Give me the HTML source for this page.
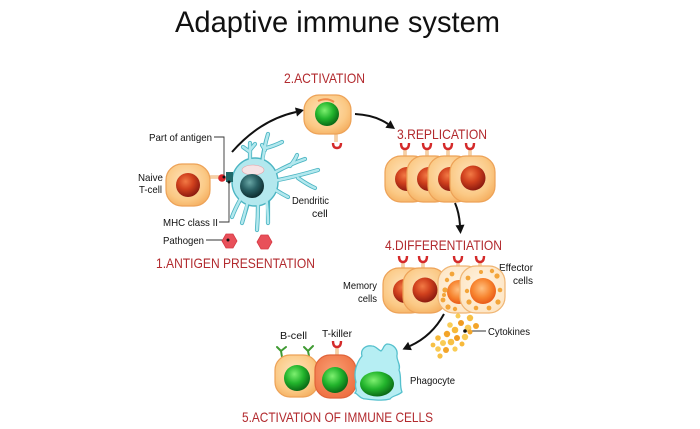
<!DOCTYPE html>
<html><head><meta charset="utf-8"><style>
html,body{margin:0;padding:0;background:#fff;}
svg{display:block;}
text{font-family:"Liberation Sans",Arial,sans-serif;}
</style></head><body>
<svg width="700" height="429" viewBox="0 0 700 429" xmlns="http://www.w3.org/2000/svg">
<defs>
<radialGradient id="peach" cx="45%" cy="40%" r="65%">
<stop offset="0" stop-color="#fde4bd"/><stop offset="0.7" stop-color="#fbc985"/><stop offset="1" stop-color="#f5b062"/>
</radialGradient>
<radialGradient id="redn" cx="40%" cy="35%" r="65%">
<stop offset="0" stop-color="#f27a45"/><stop offset="0.5" stop-color="#d0401d"/><stop offset="1" stop-color="#8e1b10"/>
</radialGradient>
<radialGradient id="greenn" cx="40%" cy="35%" r="65%">
<stop offset="0" stop-color="#7ef070"/><stop offset="0.55" stop-color="#22b42c"/><stop offset="1" stop-color="#0b6b16"/>
</radialGradient>
<radialGradient id="tealn" cx="40%" cy="35%" r="65%">
<stop offset="0" stop-color="#6aa7a6"/><stop offset="0.5" stop-color="#2a6266"/><stop offset="1" stop-color="#0f2e31"/>
</radialGradient>
<radialGradient id="orangen" cx="45%" cy="40%" r="60%">
<stop offset="0" stop-color="#ffc080"/><stop offset="0.6" stop-color="#f7842f"/><stop offset="1" stop-color="#e95a18"/>
</radialGradient>
<radialGradient id="pale" cx="50%" cy="45%" r="65%">
<stop offset="0" stop-color="#fff5e6"/><stop offset="1" stop-color="#fde3bf"/>
</radialGradient>
<radialGradient id="killer" cx="45%" cy="40%" r="65%">
<stop offset="0" stop-color="#f9a074"/><stop offset="1" stop-color="#ee6e40"/>
</radialGradient>
</defs>

<!-- Title -->
<text x="175" y="32" font-size="30" textLength="325" lengthAdjust="spacingAndGlyphs" fill="#111">Adaptive immune system</text>

<!-- Stage headings -->
<g fill="#b22a2e" font-size="14">
<text x="156" y="268" textLength="159" lengthAdjust="spacingAndGlyphs">1.ANTIGEN PRESENTATION</text>
<text x="284" y="83" textLength="81" lengthAdjust="spacingAndGlyphs">2.ACTIVATION</text>
<text x="397" y="139" textLength="90" lengthAdjust="spacingAndGlyphs">3.REPLICATION</text>
<text x="385" y="250" textLength="117" lengthAdjust="spacingAndGlyphs">4.DIFFERENTIATION</text>
<text x="242" y="422" textLength="191" lengthAdjust="spacingAndGlyphs">5.ACTIVATION OF IMMUNE CELLS</text>
</g>

<!-- leader lines -->
<g stroke="#333" stroke-width="0.9" fill="none">
<path d="M214,137 H224 V176"/>
<path d="M219,222 H229 V182"/>
<path d="M206,240 H228"/>
<path d="M466,331 H486"/>
</g>

<!-- Arrows -->
<g stroke="#111" stroke-width="2" fill="none">
<path d="M232,152 Q260,120 296,112"/>
<path d="M355,114 Q375,115 388,124"/>
<path d="M455,203 Q459,212 460,225"/>
<path d="M444,314 Q432,336 410,346"/>
</g>
<g fill="#111">
<polygon points="304,110 297,116.5 295,107.5"/>
<polygon points="395,129 385.4,127.7 390.6,120.3"/>
<polygon points="460.6,234 455.5,225.4 464.5,224.6"/>
<polygon points="402.5,349.5 411.9,350.1 408.1,341.9"/>
</g>

<!-- Naive T-cell -->
<line x1="209" y1="177" x2="220" y2="177" stroke="#e9a867" stroke-width="3"/>
<line x1="209" y1="177" x2="220" y2="177" stroke="#fbe0bd" stroke-width="1.4"/>
<rect x="166" y="164" width="44" height="42" rx="16" fill="url(#peach)" stroke="#eda257" stroke-width="1.2"/>
<circle cx="188" cy="185" r="12" fill="url(#redn)"/>

<!-- Dendritic cell -->
<g fill="none" stroke-linecap="round">
<g stroke="#4cb5c3" stroke-width="4.2">
<path d="M250,162 L250,143"/><path d="M250,152 L243,147"/><path d="M250,150 L255,144"/>
<path d="M262,162 Q264,147 268,134"/><path d="M266,148 Q274,146 282,142"/><path d="M265,150 L262,145"/>
<path d="M276,172 Q290,164 305,159"/><path d="M290,166 Q295,160 297,155"/>
<path d="M278,180 Q298,176 318,170"/><path d="M298,178 Q308,185 315,188"/>
<path d="M276,190 Q282,194 288,197"/>
<path d="M268,200 Q268,212 268,223"/>
<path d="M258,204 Q258,217 257,230"/>
<path d="M248,203 Q245,213 242,223"/>
<path d="M240,200 Q235,209 232,217"/>
</g>
<ellipse cx="255" cy="182" rx="23" ry="24" fill="#b3e8ee" stroke="#4cb5c3" stroke-width="1.4"/>
<g stroke="#b3e8ee" stroke-width="2.5">
<path d="M250,168 L250,143"/><path d="M250,152 L243,147"/><path d="M250,150 L255,144"/>
<path d="M262,166 Q264,147 268,134"/><path d="M266,148 Q274,146 282,142"/><path d="M265,150 L262,145"/>
<path d="M272,174 Q290,164 305,159"/><path d="M290,166 Q295,160 297,155"/>
<path d="M274,181 Q298,176 318,170"/><path d="M298,178 Q308,185 315,188"/>
<path d="M272,188 Q282,194 288,197"/>
<path d="M266,196 Q268,212 268,223"/>
<path d="M258,200 Q258,217 257,230"/>
<path d="M248,200 Q245,213 242,223"/>
<path d="M242,196 Q235,209 232,217"/>
</g>
</g>
<ellipse cx="253" cy="170" rx="11" ry="5" fill="#f5e4e6" stroke="#e6a0a6" stroke-width="0.6"/>
<circle cx="252" cy="186" r="12" fill="url(#tealn)"/>
<!-- antigen + MHC -->
<rect x="226" y="172" width="7" height="10" fill="#1f6a6a"/>
<circle cx="222" cy="178" r="3.8" fill="#d8262a"/>
<circle cx="224" cy="177" r="1.5" fill="#111"/>
<circle cx="229" cy="182" r="1.5" fill="#111"/>

<!-- Pathogens -->
<polygon points="226,234 233,234 237,241 233,248 226,248 222,241" fill="#e8505a" stroke="#d63a45" stroke-width="0.8"/>
<polygon points="261,235 268,235 272,242 268,249 261,249 257,242" fill="#e8505a" stroke="#d63a45" stroke-width="0.8"/>
<circle cx="228" cy="240" r="1.5" fill="#111"/>

<!-- Labels -->
<g fill="#111" font-size="10.5">
<text x="138" y="181" textLength="25" lengthAdjust="spacingAndGlyphs">Naive</text>
<text x="139" y="193" textLength="23" lengthAdjust="spacingAndGlyphs">T-cell</text>
<text x="149" y="141" textLength="63" lengthAdjust="spacingAndGlyphs">Part of antigen</text>
<text x="163" y="226" textLength="55" lengthAdjust="spacingAndGlyphs">MHC class II</text>
<text x="163" y="244" textLength="41" lengthAdjust="spacingAndGlyphs">Pathogen</text>
<text x="292" y="204" textLength="37" lengthAdjust="spacingAndGlyphs">Dendritic</text>
<text x="312" y="217" font-size="10.5">cell</text>
<text x="343" y="289" textLength="34" lengthAdjust="spacingAndGlyphs">Memory</text>
<text x="358" y="302" textLength="19" lengthAdjust="spacingAndGlyphs">cells</text>
<text x="499" y="271" textLength="34" lengthAdjust="spacingAndGlyphs">Effector</text>
<text x="513" y="284" textLength="20" lengthAdjust="spacingAndGlyphs">cells</text>
<text x="488" y="335" textLength="42" lengthAdjust="spacingAndGlyphs">Cytokines</text>
<text x="280" y="339" textLength="27" lengthAdjust="spacingAndGlyphs">B-cell</text>
<text x="322" y="337" textLength="30" lengthAdjust="spacingAndGlyphs">T-killer</text>
<text x="410" y="384" textLength="45" lengthAdjust="spacingAndGlyphs">Phagocyte</text>
</g>

<!-- Activation cell -->
<line x1="336" y1="131" x2="336" y2="142" stroke="#e9a867" stroke-width="3"/>
<line x1="336" y1="131" x2="336" y2="142" stroke="#fbe0bd" stroke-width="1.4"/>
<path d="M333,143 Q333,148 337,148 Q341,148 341,143" stroke="#d42a2a" stroke-width="2.4" fill="none"/>
<rect x="304" y="95" width="47" height="39" rx="15" fill="url(#peach)" stroke="#eda257" stroke-width="1.2"/>
<path d="M318,101 Q327,97 334,102" stroke="#f08a4a" stroke-width="2" fill="none"/>
<circle cx="327" cy="114" r="12" fill="url(#greenn)"/>

<!-- Replication cells -->
<g>
<g stroke-width="3" stroke="#e9a867"><line x1="405" y1="148" x2="405" y2="158"/><line x1="427" y1="148" x2="427" y2="158"/><line x1="448" y1="148" x2="448" y2="158"/><line x1="470" y1="148" x2="470" y2="158"/></g>
<g stroke-width="1.4" stroke="#fbe0bd"><line x1="405" y1="148" x2="405" y2="158"/><line x1="427" y1="148" x2="427" y2="158"/><line x1="448" y1="148" x2="448" y2="158"/><line x1="470" y1="148" x2="470" y2="158"/></g>
<g stroke="#d42a2a" stroke-width="2.4" fill="none">
<path d="M401,143 Q401,149 405,149 Q409,149 409,143"/>
<path d="M423,143 Q423,149 427,149 Q431,149 431,143"/>
<path d="M444,143 Q444,149 448,149 Q452,149 452,143"/>
<path d="M466,143 Q466,149 470,149 Q474,149 474,143"/>
</g>
<rect x="385" y="156" width="44" height="46" rx="16" fill="url(#peach)" stroke="#eda257" stroke-width="1.2"/>
<circle cx="407" cy="179" r="12" fill="url(#redn)"/>
<rect x="407" y="156" width="44" height="46" rx="16" fill="url(#peach)" stroke="#eda257" stroke-width="1.2"/>
<circle cx="429" cy="179" r="12" fill="url(#redn)"/>
<rect x="428" y="156" width="44" height="46" rx="16" fill="url(#peach)" stroke="#eda257" stroke-width="1.2"/>
<circle cx="450" cy="179" r="12" fill="url(#redn)"/>
<rect x="450" y="156" width="45" height="46" rx="16" fill="url(#peach)" stroke="#eda257" stroke-width="1.2"/>
<circle cx="473" cy="178" r="12.5" fill="url(#redn)"/>
</g>

<!-- Differentiation cells -->
<g>
<g stroke-width="3" stroke="#e9a867"><line x1="403" y1="261" x2="403" y2="270"/><line x1="423" y1="261" x2="423" y2="270"/><line x1="458" y1="261" x2="458" y2="268"/><line x1="480" y1="261" x2="480" y2="268"/></g>
<g stroke-width="1.4" stroke="#fbe0bd"><line x1="403" y1="261" x2="403" y2="270"/><line x1="423" y1="261" x2="423" y2="270"/><line x1="458" y1="261" x2="458" y2="268"/><line x1="480" y1="261" x2="480" y2="268"/></g>
<g stroke="#d42a2a" stroke-width="2.4" fill="none">
<path d="M399,256 Q399,262 403,262 Q407,262 407,256"/>
<path d="M419,256 Q419,262 423,262 Q427,262 427,256"/>
<path d="M454,256 Q454,262 458,262 Q462,262 462,256"/>
<path d="M476,256 Q476,262 480,262 Q484,262 484,256"/>
</g>
<rect x="383" y="268" width="44" height="45" rx="16" fill="url(#peach)" stroke="#eda257" stroke-width="1.2"/>
<circle cx="405" cy="291" r="12" fill="url(#redn)"/>
<rect x="403" y="268" width="44" height="45" rx="16" fill="url(#peach)" stroke="#eda257" stroke-width="1.2"/>
<circle cx="425" cy="290" r="12.5" fill="url(#redn)"/>
<rect x="438" y="266" width="44" height="47" rx="16" fill="url(#pale)" stroke="#f0b573" stroke-width="1.2"/>
<circle cx="459" cy="292" r="12" fill="url(#orangen)"/>
<g fill="#f3a53a">
<circle cx="445" cy="290" r="2.6"/><circle cx="443" cy="300" r="2.4"/><circle cx="448" cy="307" r="2.6"/><circle cx="455" cy="309" r="2.2"/><circle cx="447" cy="280" r="2.2"/><circle cx="452" cy="274" r="2.4"/><circle cx="444" cy="295" r="2"/>
</g>
<rect x="460" y="266" width="45" height="47" rx="16" fill="url(#pale)" stroke="#f0b573" stroke-width="1.2"/>
<circle cx="483" cy="291" r="13" fill="url(#orangen)"/>
<g fill="#f3a53a">
<circle cx="468" cy="278" r="2.4"/><circle cx="467" cy="291" r="2.2"/><circle cx="469" cy="302" r="2.6"/><circle cx="476" cy="308" r="2.3"/><circle cx="489" cy="308" r="2.4"/><circle cx="498" cy="302" r="2.6"/><circle cx="500" cy="290" r="2.3"/><circle cx="497" cy="276" r="2.6"/><circle cx="481" cy="272" r="2"/><circle cx="492" cy="271" r="2.2"/>
</g>
</g>

<!-- Cytokines -->
<g>
<circle cx="470" cy="318" r="3.2" fill="#f7c044"/><circle cx="476" cy="326" r="3" fill="#f3a52a"/>
<circle cx="468" cy="328" r="3.4" fill="#f9ca55"/><circle cx="461" cy="323" r="3" fill="#f09a20"/>
<circle cx="455" cy="330" r="3.3" fill="#f7b93a"/><circle cx="450" cy="325" r="2.8" fill="#f9cc55"/>
<circle cx="447" cy="334" r="3.2" fill="#f3a52a"/><circle cx="457" cy="338" r="3" fill="#f09a20"/>
<circle cx="465" cy="337" r="3.2" fill="#f9ca55"/><circle cx="470" cy="332" r="2.5" fill="#f3a52a"/>
<circle cx="451" cy="342" r="3.3" fill="#f7c044"/><circle cx="443" cy="343" r="3" fill="#f9cc55"/>
<circle cx="438" cy="338" r="2.8" fill="#f7b93a"/><circle cx="446" cy="350" r="3" fill="#f3a52a"/>
<circle cx="438" cy="349" r="2.8" fill="#f9ca55"/><circle cx="455" cy="349" r="2.6" fill="#f9cc55"/>
<circle cx="440" cy="356" r="2.6" fill="#f7c044"/><circle cx="462" cy="344" r="2.5" fill="#f7b93a"/>
<circle cx="458" cy="316" r="2.5" fill="#f9cc55"/><circle cx="433" cy="345" r="2.4" fill="#f7c044"/>
<circle cx="465" cy="331" r="1.8" fill="#111"/>
</g>

<!-- B-cell -->
<g stroke="#3f9a32" stroke-width="2" fill="none" stroke-linecap="round">
<path d="M282,357 L281,351 M281,351 L277,347 M281,351 L286,347"/>
<path d="M309,356 L308,351 M308,351 L304,347 M308,351 L313,346"/>
</g>
<rect x="275" y="355" width="43" height="42" rx="15" fill="url(#peach)" stroke="#eda257" stroke-width="1.2"/>
<circle cx="297" cy="378" r="13" fill="url(#greenn)"/>

<!-- T-killer -->
<line x1="337" y1="347" x2="337" y2="356" stroke="#e9a867" stroke-width="3"/>
<line x1="337" y1="347" x2="337" y2="356" stroke="#fbe0bd" stroke-width="1.4"/>
<path d="M333,341 Q333,347 337,347 Q341,347 341,341" stroke="#d42a2a" stroke-width="2.4" fill="none"/>
<rect x="315" y="355" width="41" height="43" rx="15" fill="url(#killer)" stroke="#e0643a" stroke-width="1.2"/>
<circle cx="335" cy="380" r="13" fill="url(#greenn)"/>

<!-- Phagocyte -->
<path d="M356,382 C353,372 357,362 362,356 C360,349 366,345 372,346 C376,346 378,350 381,351 C384,349 383,345 387,344 C393,344 398,349 397,355 C396,360 401,364 399,370 C402,377 399,385 402,392 C398,396 393,395 390,399 C382,401 374,400 366,399 C360,399 358,394 355,393 C358,390 354,387 356,382 Z" fill="#b6eef3" stroke="#55c0cd" stroke-width="1.3"/>
<ellipse cx="377" cy="384" rx="17" ry="12.5" fill="url(#greenn)"/>
</svg>
</body></html>
